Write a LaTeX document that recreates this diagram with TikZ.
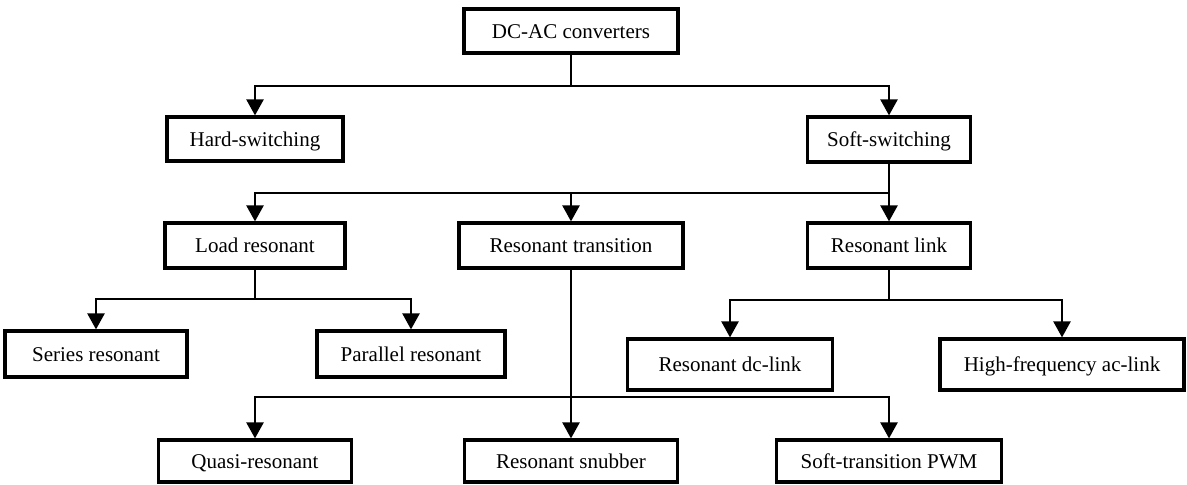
\documentclass[tikz,border=0pt]{standalone}
\usepackage{fontspec}
\setmainfont{Liberation Serif}
\usetikzlibrary{arrows.meta}
\begin{document}
\begin{tikzpicture}[x=0.5pt,y=-0.5pt,
  box/.style={draw=black, line width=1.6pt, fill=white, inner sep=0pt,
    text height=8.6pt, text depth=1.2pt,
    font=\fontsize{10.5}{12}\selectfont},
  conn/.style={line width=1.2pt},
  arr/.style={conn, -{Triangle[length=8pt,width=8.5pt]}}]
\useasboundingbox[fill=white] (0,0) rectangle (1187,484);
% level 0
\node[box, minimum width=107pt, minimum height=22pt] (dc) at (571,31) {DC-AC converters};
% level 1
\node[box, minimum width=88pt, minimum height=22pt] (hard) at (255,139) {Hard-switching};
\node[box, minimum width=81.5pt, minimum height=22.5pt] (soft) at (889,139.5) {Soft-switching};
% level 2
\node[box, minimum width=90pt, minimum height=22.5pt] (load) at (255,245.5) {Load resonant};
\node[box, minimum width=112pt, minimum height=22.5pt] (trans) at (571,245.5) {Resonant transition};
\node[box, minimum width=81.5pt, minimum height=22.5pt] (link) at (889,245.5) {Resonant link};
% level 3
\node[box, minimum width=91pt, minimum height=23pt] (series) at (96,354) {Series resonant};
\node[box, minimum width=94pt, minimum height=23pt] (parallel) at (411,354) {Parallel resonant};
\node[box, minimum width=102.5pt, minimum height=25.5pt] (dclink) at (730,364.5) {Resonant dc-link};
\node[box, minimum width=122pt, minimum height=25.5pt] (aclink) at (1062,364.5) {High-frequency ac-link};
% level 4
\node[box, minimum width=96.5pt, minimum height=21pt] (quasi) at (255,461) {Quasi-resonant};
\node[box, minimum width=106.5pt, minimum height=21pt] (snub) at (571,461) {Resonant snubber};
\node[box, minimum width=112.5pt, minimum height=21pt] (pwm) at (889,461) {Soft-transition PWM};
% bus junctions
\coordinate (b1) at (571,86);
\coordinate (b2) at (889,193);
\coordinate (b3) at (255,299);
\coordinate (b4) at (889,300);
\coordinate (b5) at (571,397);
% connectors
\draw[conn] (dc.south) -- (b1);
\draw[arr] (b1) -| (hard.north);
\draw[arr] (b1) -| (soft.north);
\draw[arr] (soft.south) -- (link.north);
\draw[arr] (b2) -| (load.north);
\draw[arr] (b2 -| trans.north) -- (trans.north);
\draw[conn] (load.south) -- (b3);
\draw[arr] (b3) -| (series.north);
\draw[arr] (b3) -| (parallel.north);
\draw[conn] (link.south) -- (b4);
\draw[arr] (b4) -| (dclink.north);
\draw[arr] (b4) -| (aclink.north);
\draw[arr] (trans.south) -- (snub.north);
\draw[arr] (b5) -| (quasi.north);
\draw[arr] (b5) -| (pwm.north);
\end{tikzpicture}
\end{document}
